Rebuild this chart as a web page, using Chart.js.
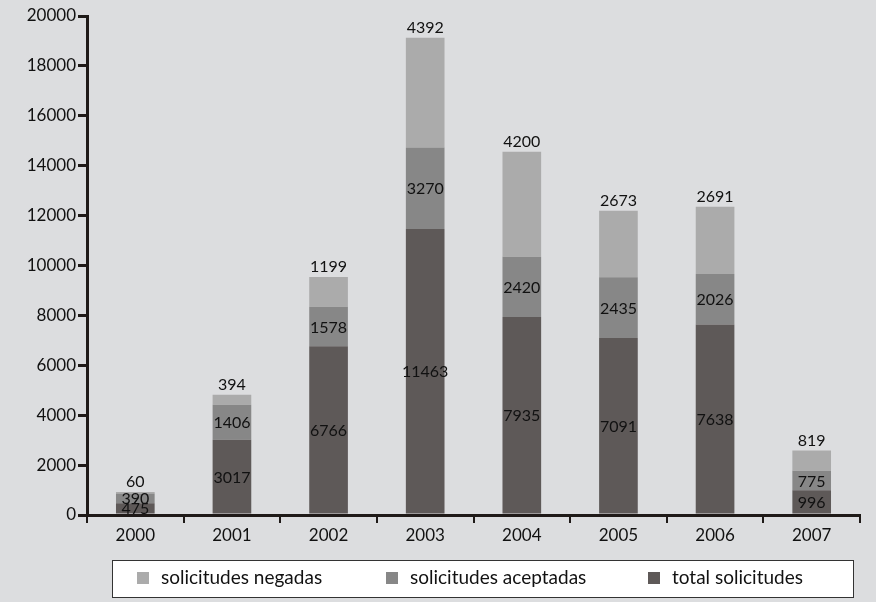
<!DOCTYPE html>
<html lang="es">
<head>
<meta charset="UTF-8">
<script src="https://cdn.jsdelivr.net/npm/chart.js@4"></script>
<title>Solicitudes</title>
<style>
  html, body { margin: 0; padding: 0; background: #dcdddf; }
  #wrap { width: 876px; height: 602px; }
</style>
</head>
<body>
<div id="wrap"><canvas id="grafico"></canvas></div>
<script>
    // dati
    var anni = ['2000', '2001', '2002', '2003', '2004', '2005', '2006', '2007'];
    var totalSolicitudes = [475, 3017, 6766, 11463, 7935, 7091, 7638, 996];
    var solicitudesAceptadas = [390, 1406, 1578, 3270, 2420, 2435, 2026, 775];
    var solicitudesNegadas = [60, 394, 1199, 4392, 4200, 2673, 2691, 819];

    var fontFam = 'Lato, "Open Sans", sans-serif';
    var inchiostro = '#1f1a18';

    // etichette dei valori sulle barre
    var etichette = {
        id: 'etichette',
        afterDatasetsDraw: function(chart) {
            var ctx = chart.ctx;
            ctx.save();
            ctx.fillStyle = '#111';
            ctx.font = '16px ' + fontFam;
            ctx.textAlign = 'center';
            chart.data.datasets.forEach(function(ds, i) {
                var meta = chart.getDatasetMeta(i);
                meta.data.forEach(function(bar, j) {
                    var v = ds.data[j];
                    if (ds.sopra) {
                        ctx.textBaseline = 'bottom';
                        ctx.fillText(v, bar.x, bar.y - 2);
                    } else {
                        ctx.textBaseline = 'middle';
                        ctx.fillText(v, bar.x, (bar.y + bar.base) / 2 + 1);
                    }
                });
            });
            ctx.restore();
        }
    };

    // legenda in un riquadro bianco
    var legenda = {
        id: 'legenda',
        afterDraw: function(chart) {
            var ctx = chart.ctx;
            ctx.save();
            ctx.fillStyle = '#ffffff';
            ctx.fillRect(112, 560, 741, 37);
            ctx.strokeStyle = '#333';
            ctx.lineWidth = 1;
            ctx.strokeRect(112.5, 560.5, 741, 37);
            var voci = [
                {testo: 'solicitudes negadas', colore: '#ababab', x: 137},
                {testo: 'solicitudes aceptadas', colore: '#878787', x: 386},
                {testo: 'total solicitudes', colore: '#5e5958', x: 648}
            ];
            ctx.font = '19px ' + fontFam;
            ctx.textBaseline = 'middle';
            ctx.textAlign = 'left';
            voci.forEach(function(v) {
                ctx.fillStyle = v.colore;
                ctx.fillRect(v.x, 572, 12, 12);
                ctx.fillStyle = '#111';
                ctx.fillText(v.testo, v.x + 24, 578);
            });
            ctx.restore();
        }
    };

    var data = {
        labels: anni,
        datasets: [
            {
                label: 'total solicitudes',
                backgroundColor: '#5e5958',
                data: totalSolicitudes
            },
            {
                label: 'solicitudes aceptadas',
                backgroundColor: '#878787',
                data: solicitudesAceptadas
            },
            {
                label: 'solicitudes negadas',
                backgroundColor: '#ababab',
                data: solicitudesNegadas,
                sopra: true
            }
        ]
    };

    var options = {
        responsive: true,
        maintainAspectRatio: false,
        animation: false,
        layout: { padding: { left: 0, right: 16, top: 16, bottom: 0 } },
        datasets: { bar: { barPercentage: 0.4, categoryPercentage: 1 } },
        plugins: {
            legend: { display: false },
            tooltip: { enabled: false }
        },
        scales: {
            x: {
                stacked: true,
                afterFit: function(s) { s.height = 87; },
                grid: {
                    display: true,
                    drawOnChartArea: false,
                    offset: true,
                    color: inchiostro,
                    lineWidth: 2,
                    tickLength: 8
                },
                border: { color: inchiostro, width: 3 },
                ticks: { color: '#111', font: { family: fontFam, size: 17 }, padding: 2 }
            },
            y: {
                stacked: true,
                min: 0,
                max: 20000,
                afterFit: function(s) { s.width = 87; },
                grid: {
                    display: true,
                    drawOnChartArea: false,
                    color: inchiostro,
                    lineWidth: 3,
                    tickLength: 9
                },
                border: { color: inchiostro, width: 3 },
                ticks: {
                    stepSize: 2000,
                    color: '#111',
                    font: { family: fontFam, size: 17 },
                    padding: 2,
                    callback: function(v) { return String(v); }
                }
            }
        }
    };

    new Chart('grafico', {
        type: 'bar',
        data: data,
        options: options,
        plugins: [etichette, legenda]
    });
</script>
</body>
</html>
